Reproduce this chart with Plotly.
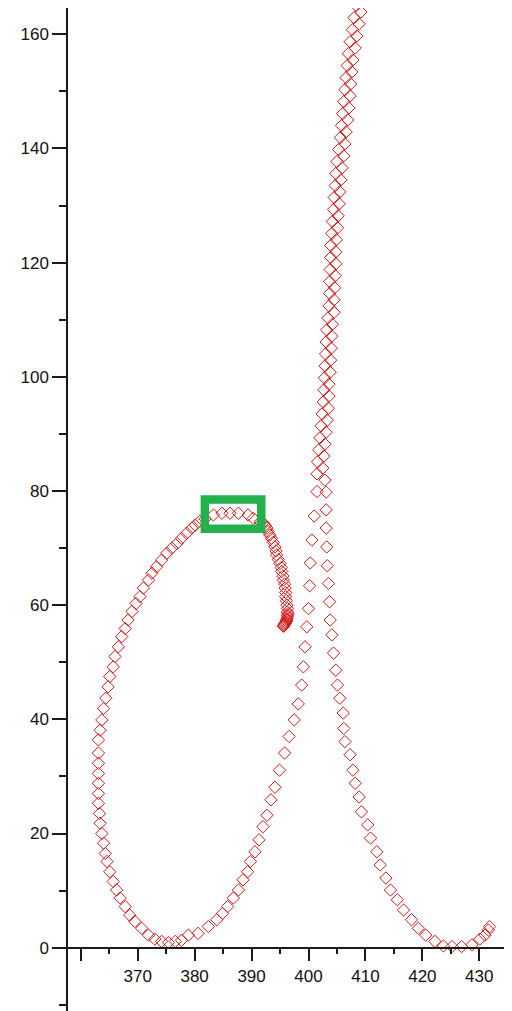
import plotly.graph_objects as go

# ---- data ----
right_x = [431.8, 431.6, 431.0, 430.1, 428.7, 426.9, 425.2, 423.7, 422.2, 420.6, 419.3, 418.1,
           416.7, 415.6, 414.4, 413.6, 412.6, 412.0, 410.9, 410.4, 409.3, 408.9, 408.2, 407.8,
           407.3, 406.4, 406.2, 406.1, 405.5, 405.1, 404.8, 404.4, 404.1, 403.8, 403.7, 403.5,
           403.3, 403.2, 403.1, 403.1, 403.1, 402.9]
right_y = [3.7, 3.1, 2.2, 1.5, 0.5, 0.2, 0.2, 0.3, 1.1, 2.2, 3.4, 4.9,
           6.6, 8.4, 10.1, 12.2, 14.5, 16.8, 19.2, 21.5, 23.8, 26.4, 28.8, 31.1,
           33.8, 36.1, 38.4, 41.1, 43.7, 46.0, 48.6, 51.6, 54.8, 57.4, 60.6, 63.8,
           66.9, 70.2, 73.5, 76.7, 79.8, 81.9]

ascent_x = [402.5, 402.7, 402.9, 403.1, 403.3, 403.5, 403.6, 403.6, 403.8, 403.9,
            404.0, 404.1, 404.2, 404.5, 404.5, 404.6, 404.7, 404.8, 404.8, 404.9,
            405.1, 405.2, 405.4, 405.5, 405.7, 405.9, 406.2, 406.4, 406.6, 406.9,
            407.1, 407.3, 407.4, 407.6, 407.8, 408.2, 408.5, 408.9, 409.2, 409.6,
            409.9, 410.3]
ascent_y = [84.0, 86.1, 88.2, 90.3, 92.4, 94.5, 96.6, 98.7, 100.8, 102.9,
            105.0, 107.1, 109.2, 111.3, 113.5, 115.6, 117.7, 119.8, 121.9, 124.0,
            126.1, 128.2, 130.3, 132.4, 134.5, 136.6, 138.7, 140.8, 142.9, 145.0,
            147.1, 149.2, 151.3, 153.4, 155.5, 157.6, 159.7, 161.8, 163.9, 166.0,
            168.1, 170.2]

descent_x = [409.5, 409.1, 408.8, 408.4, 408.0, 407.7, 407.3, 407.0, 406.8, 406.6,
             406.4, 406.2, 406.0, 405.8, 405.6, 405.3, 405.0, 404.8, 404.7, 404.5,
             404.4, 404.2, 404.1, 403.9, 403.9, 403.8, 403.7, 403.7, 403.6, 403.4,
             403.2, 403.1, 403.0, 402.9, 402.8, 402.7, 402.6, 402.4, 402.2, 402.0,
             401.8, 401.6, 401.5, 401.5, 401.0, 400.6, 400.3, 400.2, 400.0, 399.7,
             399.4, 399.1, 398.8]
descent_y = [171.3, 169.2, 167.1, 165.0, 162.9, 160.8, 158.7, 156.6, 154.5, 152.4,
             150.3, 148.2, 146.1, 144.0, 141.9, 139.8, 137.7, 135.6, 133.5, 131.4,
             129.3, 127.2, 125.1, 123.0, 120.9, 118.8, 116.7, 114.6, 112.4, 110.3,
             108.2, 106.1, 104.0, 101.9, 99.8, 97.7, 95.6, 93.5, 91.4, 89.3,
             87.2, 85.1, 83.0, 79.9, 75.6, 71.4, 67.4, 63.4, 59.4, 56.2,
             52.7, 49.2, 46.0]

lower_x = [398.2, 397.5, 396.6, 395.8, 394.9, 394.1, 393.4, 392.7, 392.0, 391.3,
           390.6, 389.8, 389.3, 388.5, 387.7, 386.8, 385.8, 384.9, 383.9, 382.4,
           380.6, 378.9, 377.7, 376.6, 375.4, 374.2, 373.0, 371.9, 370.7]
lower_y = [42.7, 39.9, 37.0, 34.1, 31.1, 28.1, 25.9, 23.2, 21.2, 18.9,
           16.8, 15.1, 13.3, 11.9, 10.1, 8.7, 7.2, 6.0, 4.9, 3.7,
           2.5, 2.2, 1.3, 1.1, 0.9, 1.1, 1.5, 2.2, 3.4]

loop_x = [369.5, 368.6, 367.8, 366.9, 366.3, 365.7, 365.1, 364.6, 364.3, 364.0,
          363.7, 363.4, 363.3, 363.1, 363.1, 363.1, 363.1, 363.1, 363.1, 363.1,
          363.4, 363.7, 364.0, 364.4, 364.8, 365.1, 365.7, 366.0, 366.6, 367.2,
          367.8, 368.3, 369.0, 369.7, 370.4, 371.0, 371.9, 372.5, 373.3, 374.2,
          375.1, 376.0, 376.9, 377.7, 378.6, 379.5, 380.1, 380.9, 381.8, 383.3,
          384.8, 386.2, 387.7, 389.4, 390.3, 391.5]
loop_y = [4.6, 5.7, 7.2, 8.7, 10.1, 11.6, 13.3, 15.1, 16.5, 18.3,
          20.0, 21.8, 23.5, 25.3, 27.0, 28.8, 30.5, 32.3, 34.1, 36.4,
          38.1, 39.9, 41.9, 43.7, 45.7, 47.5, 49.2, 51.0, 52.7, 54.5,
          55.9, 57.4, 58.9, 60.3, 61.5, 63.0, 64.4, 65.6, 66.7, 67.9,
          69.1, 70.0, 70.8, 71.7, 72.6, 73.5, 74.0, 74.7, 75.1, 75.8,
          76.1, 76.1, 76.1, 75.8, 75.2, 74.6]

hook_x = [392.0, 392.4, 392.7, 392.9, 393.2, 393.5, 393.8, 394.1, 394.3, 394.4, 394.7,
          395.0, 395.2, 395.3, 395.5, 395.6, 395.8, 395.9, 396.0, 396.0, 396.1,
          396.2, 396.3, 396.3, 396.4, 396.3, 396.3, 396.2, 396.2, 396.1, 396.0,
          395.9, 395.8, 395.7, 395.6, 395.6]
hook_y = [74.4, 74.0, 73.5, 72.9, 72.3, 71.7, 71.0, 70.2, 69.5, 68.8, 68.0,
          67.3, 66.6, 65.9, 65.1, 64.4, 63.7, 63.0, 62.2, 61.5, 60.8,
          60.0, 59.4, 58.8, 58.5, 58.2, 57.9, 57.6, 57.4, 57.2, 57.0,
          56.8, 56.7, 56.5, 56.4, 56.3]

x_tickvals = [360, 370, 380, 390, 400, 410, 420, 430]
x_ticktext = ["", "370", "380", "390", "400", "410", "420", "430"]
y_tickvals = [0, 20, 40, 60, 80, 100, 120, 140, 160]
y_ticktext = ["0", "20", "40", "60", "80", "100", "120", "140", "160"]

# highlight box (data coordinates)
box_x = [381.8, 391.7]
box_y = [73.4, 78.5]

# ---- figure ----
RED = "#d01818"
fig = go.Figure()
for xs, ys in [(right_x, right_y), (ascent_x, ascent_y), (descent_x, descent_y),
               (lower_x, lower_y), (loop_x, loop_y), (hook_x, hook_y)]:
    fig.add_trace(go.Scatter(
        x=xs, y=ys, mode="markers",
        marker=dict(symbol="diamond-open", size=9.5, color=RED,
                    line=dict(width=1, color=RED)),
        showlegend=False, hoverinfo="skip"))

fig.add_shape(type="rect", xref="x", yref="y",
              x0=box_x[0], x1=box_x[1], y0=box_y[0], y1=box_y[1],
              line=dict(color="#22b14c", width=8.5), fillcolor="rgba(0,0,0,0)",
              layer="above")

AX = "#1a1a1a"
FONT = dict(family="Liberation Sans", size=17, color="#111")
# the page body adds an 8px offset; ranges match the plot area extending past the window edge
xmin, xmax = 357.58, 437.15
ymin, ymax = -12.49, 164.60

fig.update_layout(
    width=512, height=1011,
    margin=dict(l=59, r=0, t=0, b=0, pad=0, autoexpand=False),
    paper_bgcolor="white", plot_bgcolor="white",
    showlegend=False,
    xaxis=dict(range=[xmin, xmax], anchor="free", position=(0 - ymin) / (ymax - ymin),
               automargin=False,
               showline=True, linecolor=AX, linewidth=1.5,
               ticks="outside", ticklen=13, tickwidth=1.5, tickcolor=AX,
               tickmode="array", tickvals=x_tickvals, ticktext=x_ticktext,
               minor=dict(ticks="outside", ticklen=6, tickwidth=1.5, tickcolor=AX,
                          tickmode="linear", tick0=0, dtick=5, showgrid=False),
               showgrid=False, zeroline=False, tickfont=FONT),
    yaxis=dict(range=[ymin, ymax], anchor="free", position=0,
               automargin=False,
               showline=True, linecolor=AX, linewidth=1.5,
               ticks="outside", ticklen=14, tickwidth=1.5, tickcolor=AX,
               tickmode="array", tickvals=y_tickvals, ticktext=y_ticktext,
               minor=dict(ticks="outside", ticklen=7, tickwidth=1.5, tickcolor=AX,
                          tickmode="linear", tick0=0, dtick=10, showgrid=False),
               showgrid=False, zeroline=False, tickfont=FONT),
)

fig.write_html("out.html")
